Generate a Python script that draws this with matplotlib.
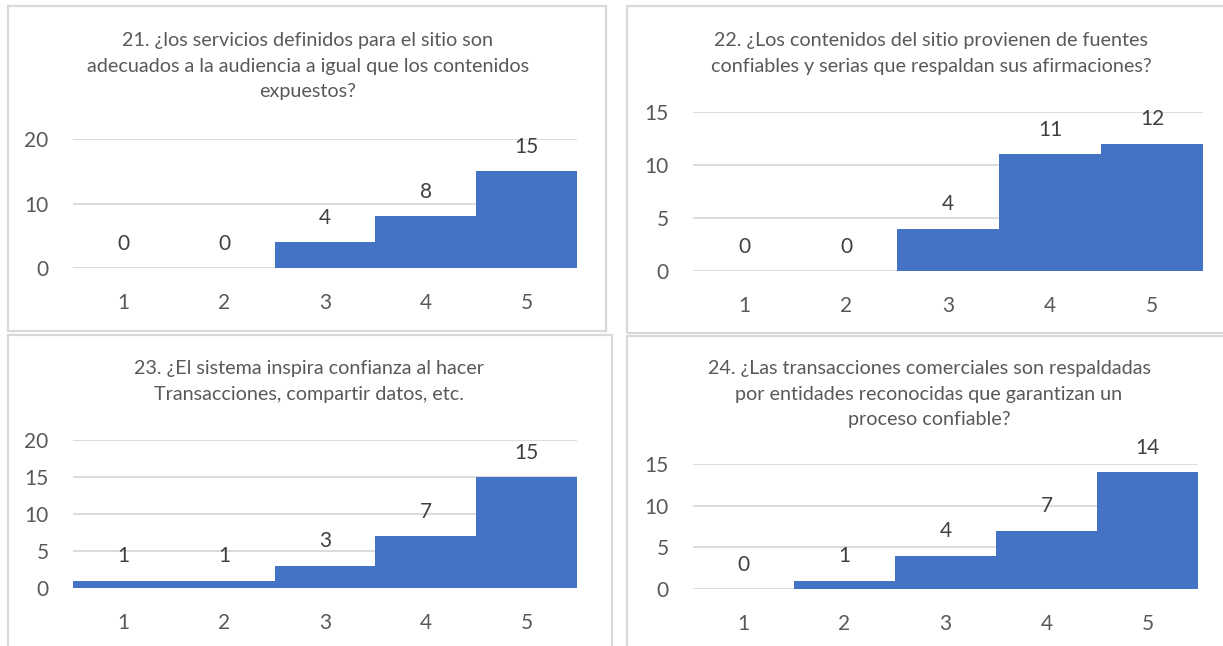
import matplotlib.pyplot as plt
from matplotlib.patches import Rectangle

# Respuestas por nivel de la escala (1-5)
escala = [1, 2, 3, 4, 5]
p21 = [0, 0, 4, 8, 15]
p22 = [0, 0, 4, 11, 12]
p23 = [1, 1, 3, 7, 15]
p24 = [0, 1, 4, 7, 14]

t21 = "21. ¿los servicios definidos para el sitio son\nadecuados a la audiencia a igual que los contenidos\nexpuestos?"
t22 = "22. ¿Los contenidos del sitio provienen de fuentes\nconfiables y serias que respaldan sus afirmaciones?"
t23 = "23. ¿El sistema inspira confianza al hacer\nTransacciones, compartir datos, etc."
t24 = "24. ¿Las transacciones comerciales son respaldadas\npor entidades reconocidas que garantizan un\nproceso confiable?"

ticks21 = [0, 10, 20]
ticks22 = [0, 5, 10, 15]
ticks23 = [0, 5, 10, 15, 20]
ticks24 = [0, 5, 10, 15]

W, H = 1223, 646
AZUL = "#4472C4"
GRIS = "#D9D9D9"
TEXTO = "#595959"

plt.rcParams['font.family'] = ['Lato', 'DejaVu Sans']

fig = plt.figure(figsize=(W / 100, H / 100), dpi=100)


def caja(x0, y0, x1, y1):
    fig.patches.append(Rectangle((x0 / W, 1 - y1 / H), (x1 - x0) / W, (y1 - y0) / H,
                                 transform=fig.transFigure, fill=False,
                                 edgecolor=GRIS, linewidth=1.6))


def panel(x0, x1, ytop, ybot, valores, yticks, titulo, xtit, ytit):
    ax = fig.add_axes([x0 / W, 1 - ybot / H, (x1 - x0) / W, (ybot - ytop) / H])
    ax.bar(escala, valores, width=1.0, color=AZUL, zorder=3)
    ax.set_xlim(0.5, 5.5)
    ax.set_ylim(0, max(yticks))
    ax.set_yticks(yticks)
    ax.set_xticks(escala)
    ax.grid(axis='y', color=GRIS, linewidth=1.3, zorder=0)
    ax.set_axisbelow(True)
    for s in ax.spines.values():
        s.set_visible(False)
    ax.tick_params(length=0, labelsize=15, colors=TEXTO)
    ax.tick_params(axis='y', pad=17.5)
    ax.tick_params(axis='x', pad=18)
    for xv, v in zip(escala, valores):
        ax.annotate(str(v), (xv, v), xytext=(0, 17.5), textcoords='offset points',
                    ha='center', va='center', fontsize=15, color='#404040',
                    annotation_clip=False)
    # el título va centrado en el recuadro del gráfico, no en el área de trazado
    fig.text(xtit / W, 1 - ytit / H, titulo, ha='center', va='top',
             fontsize=14.2, color=TEXTO, linespacing=1.62)
    return ax


caja(8, 6, 606, 331)
caja(627, 6, 1235, 333)
caja(8, 335, 612, 660)
caja(627, 336, 1235, 660)

panel(73, 577, 139, 268, p21, ticks21, t21, 308, 32)
panel(693, 1203, 112, 271, p22, ticks22, t22, 931, 32)
panel(73, 577, 440, 588, p23, ticks23, t23, 309, 360)
panel(693, 1198, 464, 589, p24, ticks24, t24, 929, 360)

fig.savefig("out.png", dpi=100, facecolor='white')
